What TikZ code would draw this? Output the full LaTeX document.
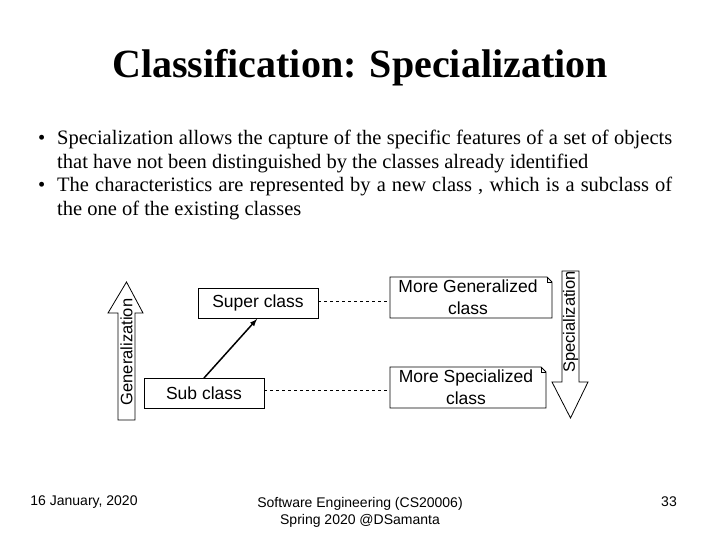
\documentclass[tikz,border=0pt]{standalone}
\usepackage{fontspec}
\setmainfont{Liberation Serif}
\newfontfamily\arial{Liberation Sans}
\begin{document}
\begin{tikzpicture}[x=1pt,y=-1pt,
  cls/.style={draw,line width=0.8pt,minimum width=120pt,minimum height=30pt,inner sep=0pt,font=\arial\fontsize{17.5}{20}\selectfont},
  dashln/.style={dashed,line width=0.6pt},
  foot/.style={font=\arial\fontsize{14}{17}\selectfont}]
\useasboundingbox (0,0) rectangle (720,540);
\node[font=\bfseries\fontsize{40}{46}\selectfont] (title) at (360,68) {Classification: Specialization};
\node[anchor=north west,text width=615pt,align=justify,font=\fontsize{20.5}{23.5}\selectfont,inner sep=0pt] (body) at (57,130)
{\leavevmode\llap{\textbullet\hspace{12pt}}Specialization allows the capture of the specific features of a set of objects that have not been distinguished by the classes already identified\par
\leavevmode\llap{\textbullet\hspace{12pt}}The characteristics are represented by a new class , which is a subclass of the one of the existing classes};
\node[cls] (sup) at (258,303) {Super class};
\node[cls] (sub) at (204,393) {Sub class};
\draw[line width=0.8pt] (390,277) -- (547,277) -- (552,282) -- (552,318) -- (390,318) -- cycle;
\draw[line width=0.5pt] (547,277) -- (547,282) -- (552,282);
\node[font=\arial\fontsize{17.5}{22}\selectfont,align=center] (mg) at (468,297.5) {More Generalized\\class};
\draw[line width=0.8pt] (390,367) -- (541,367) -- (546,372) -- (546,408) -- (390,408) -- cycle;
\draw[line width=0.5pt] (541,367) -- (541,372) -- (546,372);
\node[font=\arial\fontsize{17.5}{22}\selectfont,align=center] (ms) at (466,387.5) {More Specialized\\class};
\coordinate (mgl) at (390,301); \coordinate (msl) at (390,390);
\draw[dashln] (sup.east |- mgl) -- (mgl);
\draw[dashln] (sub.east |- msl) -- (msl);
\coordinate (a0) at (204,378); \coordinate (a1) at (257,319);
\draw[line width=1.5pt,-latex] (a0) -- (a1);
\draw[line width=0.8pt] (118,420) -- (118,313) -- (108,313) -- (126.5,282) -- (143,313) -- (135,313) -- (135,420) -- cycle;
\node[rotate=90,font=\arial\fontsize{16.5}{18}\selectfont] (gen) at (126.5,352) {Generalization};
\draw[line width=0.8pt] (562,271) -- (579,271) -- (579,382) -- (588,382) -- (570.5,418) -- (552,382) -- (562,382) -- cycle;
\node[rotate=90,font=\arial\fontsize{16.5}{18}\selectfont] (spc) at (570.5,322) {Specialization};
\node[foot] (f1) at (84,502) {16 January, 2020};
\node[foot,align=center] (f2) at (360,512) {Software Engineering (CS20006)\\Spring 2020 @DSamanta};
\node[foot] (f3) at (669,502) {33};
\end{tikzpicture}
\end{document}
